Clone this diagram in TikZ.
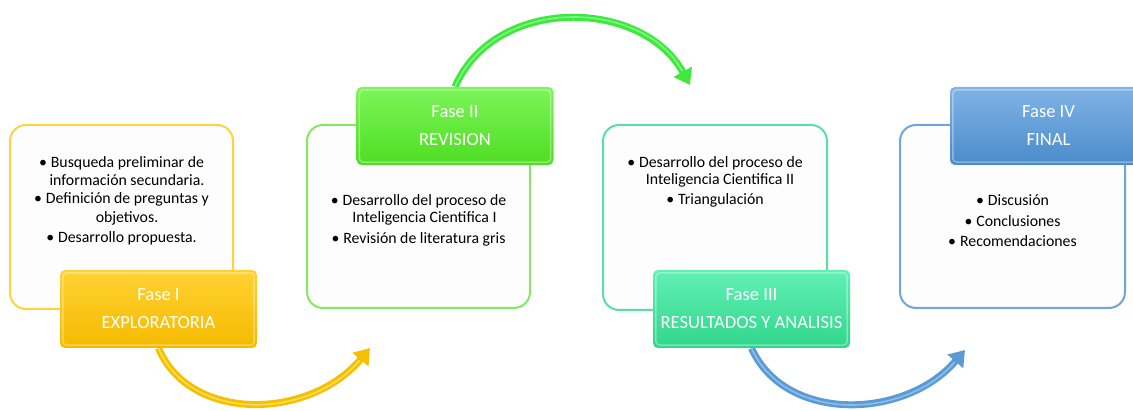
\documentclass[tikz,border=0pt]{standalone}
\usepackage{fontspec}
\setmainfont{Carlito}
\usetikzlibrary{arrows.meta,backgrounds}
\definecolor{yeltop}{HTML}{FFD233}
\definecolor{yelbot}{HTML}{F5BA00}
\definecolor{yelline}{HTML}{FFD23F}
\definecolor{yelarr}{HTML}{F5C000}
\definecolor{yelhi}{HTML}{FFDC5A}
\definecolor{grntop}{HTML}{7CF55A}
\definecolor{grnbot}{HTML}{4FDD22}
\definecolor{grnline}{HTML}{84E866}
\definecolor{grnarr}{HTML}{3EE83E}
\definecolor{grnhi}{HTML}{80F580}
\definecolor{teatop}{HTML}{62F0B4}
\definecolor{teabot}{HTML}{30D68C}
\definecolor{tealine}{HTML}{5CDDA8}
\definecolor{blutop}{HTML}{80B4E6}
\definecolor{blubot}{HTML}{4A8BCB}
\definecolor{bluline}{HTML}{6EA6DB}
\definecolor{bluarr}{HTML}{5B9BD5}
\definecolor{bluhi}{HTML}{8DBDE8}
\definecolor{paper}{HTML}{FDFDFD}
\tikzset{
  wbox/.style={draw, line width=2pt, rounded corners=16pt, fill=paper, inner sep=0},
  pbox/.style={rounded corners=5pt, minimum width=197pt, minimum height=78pt,
    text=white, font=\fontsize{18.6}{28}\selectfont, align=center, inner sep=0},
  btxt/.style={anchor=base, font=\fontsize{15.8}{19}\selectfont, inner sep=0},
  bevel/.style={draw=white, opacity=0.35, line width=1.5pt, rounded corners=4pt},
  arrshaft/.style={line width=7pt, -{Triangle[length=15pt,width=20pt]}},
  arrhi/.style={line width=1.6pt, shorten >=16pt}
}
\newcommand{\bul}{•\hspace{4pt}}
\begin{document}
\begin{tikzpicture}[x=1pt,y=-1pt]
\path[use as bounding box] (0,0) rectangle (1133,411);
\clip (0,0) rectangle (1133,411);
% white boxes
\node[wbox, draw=yelline, minimum width=223pt, minimum height=184pt] (w1) at (121.5,217) {};
\node[wbox, draw=grnline, minimum width=223pt, minimum height=183pt] (w2) at (418.5,216.5) {};
\node[wbox, draw=tealine, minimum width=224pt, minimum height=185pt] (w3) at (715,217.5) {};
\node[wbox, draw=bluline, minimum width=225pt, minimum height=183pt] (w4) at (1012.5,216.5) {};
% bullet texts
\node[btxt] (b1a) at (121.5,167.5) {\bul Busqueda preliminar de};
\node[btxt] (b1b) at (127,185.5) {información secundaria.};
\node[btxt] (b1c) at (121.5,204) {\bul Definición de preguntas y};
\node[btxt] (b1d) at (127,222.5) {objetivos.};
\node[btxt] (b1e) at (121.5,242.5) {\bul Desarrollo propuesta.};
\node[btxt] (b2a) at (418.5,205.5) {\bul Desarrollo del proceso de};
\node[btxt] (b2b) at (424.5,222.5) {Inteligencia Cientifica I};
\node[btxt] (b2c) at (418.5,243.5) {\bul Revisión de literatura gris};
\node[btxt] (b3a) at (715,167.5) {\bul Desarrollo del proceso de};
\node[btxt] (b3b) at (720,184.5) {Inteligencia Cientifica II};
\node[btxt] (b3c) at (715,204.5) {\bul Triangulación};
\node[btxt] (b4a) at (1012.5,205.5) {\bul Discusión};
\node[btxt] (b4b) at (1012.5,226.5) {\bul Conclusiones};
\node[btxt] (b4c) at (1012.5,246.5) {\bul Recomendaciones};
% phase boxes
\node[pbox, top color=yeltop, bottom color=yelbot] (f1) at (158.5,309) {Fase I\\EXPLORATORIA};
\node[pbox, top color=grntop, bottom color=grnbot] (f2) at (455,126) {Fase II\\REVISION};
\node[pbox, top color=teatop, bottom color=teabot] (f3) at (751.5,309) {Fase III\\RESULTADOS Y ANALISIS};
\node[pbox, top color=blutop, bottom color=blubot] (f4) at (1048.5,126) {Fase IV\\FINAL};
\foreach \f in {f1,f2,f3,f4}{
  \draw[bevel] ([shift={(3pt,-3pt)}]\f.north west) rectangle ([shift={(-3pt,3pt)}]\f.south east);
}
% arrow tips
\coordinate (t1) at (370,348);
\coordinate (t2) at (690,85);
\coordinate (t3) at (965,350);
\begin{scope}[on background layer]
\draw[arrshaft, yelarr] (f1.south) .. controls (190,423) and (310,420) .. (t1);
\draw[arrhi, yelhi] (f1.south) .. controls (190,423) and (310,420) .. (t1);
\draw[arrshaft, grnarr] (f2.north) .. controls (495,-5) and (642,-2) .. (t2);
\draw[arrhi, grnhi] (f2.north) .. controls (495,-5) and (642,-2) .. (t2);
\draw[arrshaft, bluarr] (f3.south) .. controls (785,423) and (905,420) .. (t3);
\draw[arrhi, bluhi] (f3.south) .. controls (785,423) and (905,420) .. (t3);
\end{scope}
\end{tikzpicture}
\end{document}
